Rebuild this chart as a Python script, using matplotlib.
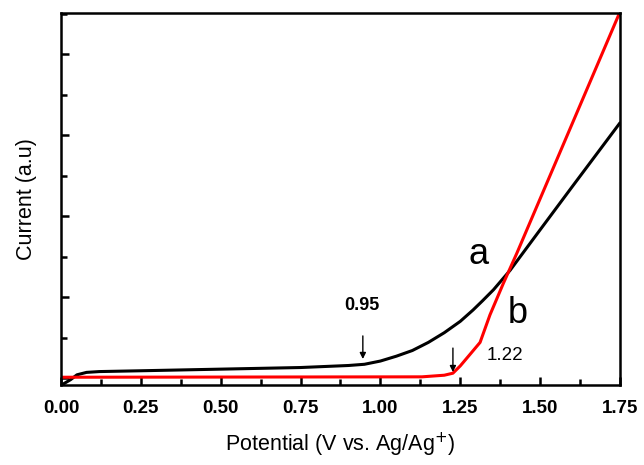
import matplotlib
matplotlib.use("Agg")
import matplotlib.pyplot as plt
from matplotlib.ticker import MultipleLocator, NullFormatter

plt.rcParams['font.family'] = ['Liberation Sans', 'DejaVu Sans']

# Curve a (black)
a_v = [0.0, 0.03, 0.05, 0.08, 0.12, 0.25, 0.50, 0.75, 0.90, 0.95, 1.00, 1.05,
       1.10, 1.15, 1.20, 1.25, 1.29, 1.32, 1.354, 1.38, 1.406, 1.50, 1.60, 1.75]
a_i = [-0.09, -0.02, 0.04, 0.07, 0.08, 0.09, 0.11, 0.13, 0.155, 0.17, 0.21, 0.27,
       0.34, 0.44, 0.56, 0.70, 0.84, 0.955, 1.09, 1.21, 1.33, 1.83, 2.36, 3.15]

# Curve b (red)
b_v = [0.0, 1.13, 1.20, 1.227, 1.25, 1.28, 1.312, 1.343, 1.385, 1.427, 1.75]
b_i = [0.01, 0.015, 0.035, 0.06, 0.15, 0.29, 0.44, 0.78, 1.17, 1.54, 4.52]

x_ticks = [0.00, 0.25, 0.50, 0.75, 1.00, 1.25, 1.50, 1.75]
x_ticklabels = ["0.00", "0.25", "0.50", "0.75", "1.00", "1.25", "1.50", "1.75"]

fig = plt.figure(figsize=(6.44, 4.65), dpi=100)
ax = fig.add_axes([0.0947, 0.172, 0.868, 0.800])

ax.plot(a_v, a_i, color='black', lw=2.2, solid_joinstyle='round', solid_capstyle='round')
ax.plot(b_v, b_i, color='#ff0000', lw=2.2, solid_joinstyle='round', solid_capstyle='round')

ax.set_xlim(0, 1.75)
ax.set_ylim(-0.086, 4.506)

ax.set_xticks(x_ticks)
ax.set_xticklabels(x_ticklabels, fontweight='bold', fontsize=13.5)
ax.xaxis.set_minor_locator(MultipleLocator(0.125))
ax.yaxis.set_major_locator(MultipleLocator(1))
ax.yaxis.set_minor_locator(MultipleLocator(0.5))
ax.yaxis.set_major_formatter(NullFormatter())

ax.tick_params(which='both', direction='in', width=1.8, top=False, right=False)
ax.tick_params(which='major', length=6)
ax.tick_params(which='minor', length=4)
ax.tick_params(axis='x', which='major', pad=11)

for s in ax.spines.values():
    s.set_linewidth(1.8)

ax.set_xlabel("Potential (V vs. Ag/Ag$^{+}$)", fontsize=15.5, labelpad=10)
ax.set_ylabel("Current (a.u)", fontsize=15.5, labelpad=14)

arrow_kw = dict(arrowstyle='-|>', color='black', lw=1.0, mutation_scale=9,
                shrinkA=0, shrinkB=0)
ax.annotate("", xy=(0.945, 0.235), xytext=(0.945, 0.52), arrowprops=arrow_kw)
ax.annotate("", xy=(1.227, 0.074), xytext=(1.227, 0.37), arrowprops=arrow_kw)

ax.text(0.942, 0.90, "0.95", fontsize=13, fontweight='bold', ha='center', va='center')
ax.text(1.39, 0.28, "1.22", fontsize=13.5, ha='center', va='center')
ax.text(1.306, 1.52, "a", fontsize=26, ha='center', va='center')
ax.text(1.43, 0.80, "b", fontsize=26, ha='center', va='center')

fig.savefig("out.png", dpi=100)
